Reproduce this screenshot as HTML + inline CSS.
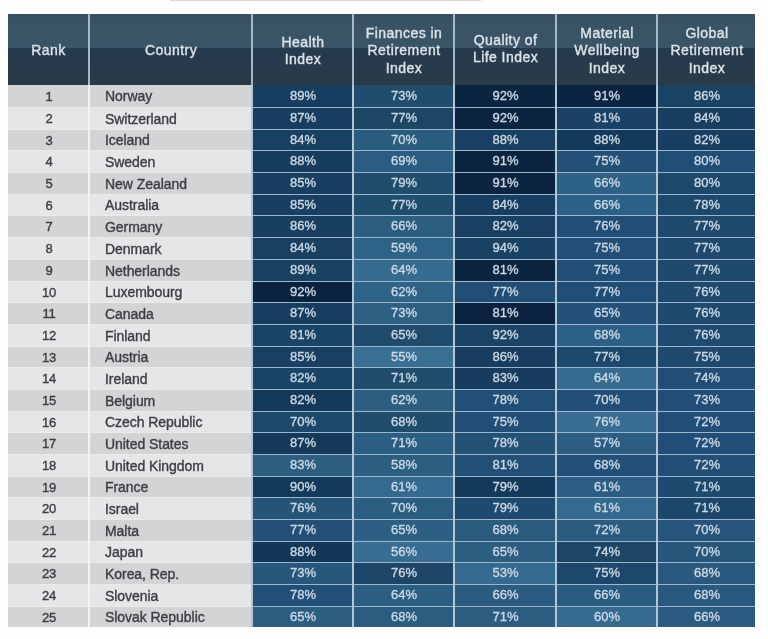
<!DOCTYPE html>
<html><head><meta charset="utf-8"><title>Global Retirement Index</title>
<style>
html,body{margin:0;padding:0;background:#fefefe;}
body{width:768px;height:639px;position:relative;overflow:hidden;font-family:"Liberation Sans",Arial,Helvetica,sans-serif;}
.c{position:absolute;box-sizing:border-box;display:flex;align-items:center;justify-content:center;white-space:nowrap;}
.h{color:#dbe2e8;font-size:14px;line-height:17.7px;text-align:center;letter-spacing:0.45px;flex-direction:column;-webkit-text-stroke:0.4px #dbe2e8;}
.g{color:#3d3f43;font-size:14px;letter-spacing:-0.05px;-webkit-text-stroke:0.38px #3d3f43;}
.n{justify-content:flex-start;padding-left:15px;}
.v{color:#ccd8e4;font-size:13px;letter-spacing:0px;-webkit-text-stroke:0.35px #ccd8e4;}
.sep{position:absolute;height:1px;background:#9bb6ce;}
.topbar{position:absolute;left:168px;top:-4px;width:313px;height:4px;border:1px solid #d4d8d8;border-top:none;border-radius:0 0 4px 4px;}
</style></head><body>

<div class="topbar"></div>
<div style="position:absolute;left:8px;top:14px;width:747px;height:613px;background:#f2f3f5"></div>
<div style="position:absolute;left:251px;top:85px;width:504px;height:542px;background:#b2c6d8"></div>
<div style="position:absolute;left:8px;top:14px;width:747px;height:71px;background:#a9b8c5"></div>
<div class="c h" style="left:8px;top:14px;width:80px;height:71px;background:linear-gradient(#385264 0,#3a5567 34px,#263a4e 34px,#2a3a49 100%)"><div style="position:relative;top:1.8px;left:0.5px">Rank</div></div>
<div class="c h" style="left:90px;top:14px;width:161px;height:71px;background:linear-gradient(#385264 0,#3a5567 34px,#263a4e 34px,#2a3a49 100%)"><div style="position:relative;top:1.3px;left:0.5px">Country</div></div>
<div class="c h" style="left:253px;top:14px;width:99px;height:71px;background:linear-gradient(#385264 0,#3a5567 34px,#263a4e 34px,#2a3a49 100%)"><div style="position:relative;top:1.8px;left:0.5px">Health<br>Index</div></div>
<div class="c h" style="left:354px;top:14px;width:99px;height:71px;background:linear-gradient(#385264 0,#3a5567 34px,#263a4e 34px,#2a3a49 100%)"><div style="position:relative;top:1.8px;left:0.5px">Finances in<br>Retirement<br>Index</div></div>
<div class="c h" style="left:455px;top:14px;width:100px;height:71px;background:linear-gradient(#385264 0,#3a5567 34px,#263a4e 34px,#2a3a49 100%)"><div style="position:relative;top:-0.2px;left:0.5px">Quality of<br>Life Index</div></div>
<div class="c h" style="left:557px;top:14px;width:99px;height:71px;background:linear-gradient(#385264 0,#3a5567 34px,#263a4e 34px,#2a3a49 100%)"><div style="position:relative;top:1.8px;left:0.5px">Material<br>Wellbeing<br>Index</div></div>
<div class="c h" style="left:658px;top:14px;width:97px;height:71px;background:linear-gradient(#385264 0,#3a5567 34px,#263a4e 34px,#2a3a49 100%)"><div style="position:relative;top:1.8px;left:0.5px">Global<br>Retirement<br>Index</div></div>
<div class="c g" style="left:8px;top:85px;width:80px;height:22px;background:#d3d4d6;"><span style="position:relative;top:0px;left:1px;font-size:13px;letter-spacing:-0.3px">1</span></div>
<div class="c g n" style="left:90px;top:85px;width:161px;height:22px;background:#d3d4d6;"><span style="position:relative;top:0px">Norway</span></div>
<div class="c v" style="left:253px;top:85px;width:99px;height:22px;background:#173e60;"><span style="position:relative;top:-1px;left:0.5px">89%</span></div>
<div class="c v" style="left:354px;top:85px;width:99px;height:22px;background:#204d6b;"><span style="position:relative;top:-1px;left:0.5px">73%</span></div>
<div class="c v" style="left:455px;top:85px;width:100px;height:22px;background:#0a2542;"><span style="position:relative;top:-1px;left:0.5px">92%</span></div>
<div class="c v" style="left:557px;top:85px;width:99px;height:22px;background:#0a2441;"><span style="position:relative;top:-1px;left:0.5px">91%</span></div>
<div class="c v" style="left:658px;top:85px;width:97px;height:22px;background:#1a4364;"><span style="position:relative;top:-1px;left:0.5px">86%</span></div>
<div class="c g" style="left:8px;top:107px;width:80px;height:22px;background:#e5e6e8;border-top:1px solid #eaebed;"><span style="position:relative;top:0px;left:1px;font-size:13px;letter-spacing:-0.3px">2</span></div>
<div class="c g n" style="left:90px;top:107px;width:161px;height:22px;background:#e5e6e8;border-top:1px solid #eaebed;"><span style="position:relative;top:0px">Switzerland</span></div>
<div class="c v" style="left:253px;top:107px;width:99px;height:22px;background:#173e60;border-top:1px solid #9bb6ce;"><span style="position:relative;top:-1px;left:0.5px">87%</span></div>
<div class="c v" style="left:354px;top:107px;width:99px;height:22px;background:#1c4664;border-top:1px solid #9bb6ce;"><span style="position:relative;top:-1px;left:0.5px">77%</span></div>
<div class="c v" style="left:455px;top:107px;width:100px;height:22px;background:#0a2440;border-top:1px solid #9bb6ce;"><span style="position:relative;top:-1px;left:0.5px">92%</span></div>
<div class="c v" style="left:557px;top:107px;width:99px;height:22px;background:#1a4266;border-top:1px solid #9bb6ce;"><span style="position:relative;top:-1px;left:0.5px">81%</span></div>
<div class="c v" style="left:658px;top:107px;width:97px;height:22px;background:#183f60;border-top:1px solid #9bb6ce;"><span style="position:relative;top:-1px;left:0.5px">84%</span></div>
<div class="c g" style="left:8px;top:129px;width:80px;height:21px;background:#d3d4d6;border-top:1px solid #eaebed;"><span style="position:relative;top:0px;left:1px;font-size:13px;letter-spacing:-0.3px">3</span></div>
<div class="c g n" style="left:90px;top:129px;width:161px;height:21px;background:#d3d4d6;border-top:1px solid #eaebed;"><span style="position:relative;top:0px">Iceland</span></div>
<div class="c v" style="left:253px;top:129px;width:99px;height:21px;background:#184062;border-top:1px solid #9bb6ce;"><span style="position:relative;top:-1px;left:0.5px">84%</span></div>
<div class="c v" style="left:354px;top:129px;width:99px;height:21px;background:#2a5c80;border-top:1px solid #9bb6ce;"><span style="position:relative;top:-1px;left:0.5px">70%</span></div>
<div class="c v" style="left:455px;top:129px;width:100px;height:21px;background:#193f62;border-top:1px solid #9bb6ce;"><span style="position:relative;top:-1px;left:0.5px">88%</span></div>
<div class="c v" style="left:557px;top:129px;width:99px;height:21px;background:#13395b;border-top:1px solid #9bb6ce;"><span style="position:relative;top:-1px;left:0.5px">88%</span></div>
<div class="c v" style="left:658px;top:129px;width:97px;height:21px;background:#183f62;border-top:1px solid #9bb6ce;"><span style="position:relative;top:-1px;left:0.5px">82%</span></div>
<div class="c g" style="left:8px;top:150px;width:80px;height:22px;background:#e5e6e8;border-top:1px solid #eaebed;"><span style="position:relative;top:0px;left:1px;font-size:13px;letter-spacing:-0.3px">4</span></div>
<div class="c g n" style="left:90px;top:150px;width:161px;height:22px;background:#e5e6e8;border-top:1px solid #eaebed;"><span style="position:relative;top:0px">Sweden</span></div>
<div class="c v" style="left:253px;top:150px;width:99px;height:22px;background:#173d5e;border-top:1px solid #9bb6ce;"><span style="position:relative;top:-1px;left:0.5px">88%</span></div>
<div class="c v" style="left:354px;top:150px;width:99px;height:22px;background:#2b5d82;border-top:1px solid #9bb6ce;"><span style="position:relative;top:-1px;left:0.5px">69%</span></div>
<div class="c v" style="left:455px;top:150px;width:100px;height:22px;background:#0a2440;border-top:1px solid #9bb6ce;"><span style="position:relative;top:-1px;left:0.5px">91%</span></div>
<div class="c v" style="left:557px;top:150px;width:99px;height:22px;background:#225077;border-top:1px solid #9bb6ce;"><span style="position:relative;top:-1px;left:0.5px">75%</span></div>
<div class="c v" style="left:658px;top:150px;width:97px;height:22px;background:#204d76;border-top:1px solid #9bb6ce;"><span style="position:relative;top:-1px;left:0.5px">80%</span></div>
<div class="c g" style="left:8px;top:172px;width:80px;height:22px;background:#d3d4d6;border-top:1px solid #eaebed;"><span style="position:relative;top:0px;left:1px;font-size:13px;letter-spacing:-0.3px">5</span></div>
<div class="c g n" style="left:90px;top:172px;width:161px;height:22px;background:#d3d4d6;border-top:1px solid #eaebed;"><span style="position:relative;top:0px">New Zealand</span></div>
<div class="c v" style="left:253px;top:172px;width:99px;height:22px;background:#183f62;border-top:1px solid #9bb6ce;"><span style="position:relative;top:-1px;left:0.5px">85%</span></div>
<div class="c v" style="left:354px;top:172px;width:99px;height:22px;background:#204d6b;border-top:1px solid #9bb6ce;"><span style="position:relative;top:-1px;left:0.5px">79%</span></div>
<div class="c v" style="left:455px;top:172px;width:100px;height:22px;background:#0b2540;border-top:1px solid #9bb6ce;"><span style="position:relative;top:-1px;left:0.5px">91%</span></div>
<div class="c v" style="left:557px;top:172px;width:99px;height:22px;background:#2d6186;border-top:1px solid #9bb6ce;"><span style="position:relative;top:-1px;left:0.5px">66%</span></div>
<div class="c v" style="left:658px;top:172px;width:97px;height:22px;background:#1c486b;border-top:1px solid #9bb6ce;"><span style="position:relative;top:-1px;left:0.5px">80%</span></div>
<div class="c g" style="left:8px;top:194px;width:80px;height:21px;background:#e5e6e8;border-top:1px solid #eaebed;"><span style="position:relative;top:0px;left:1px;font-size:13px;letter-spacing:-0.3px">6</span></div>
<div class="c g n" style="left:90px;top:194px;width:161px;height:21px;background:#e5e6e8;border-top:1px solid #eaebed;"><span style="position:relative;top:0px">Australia</span></div>
<div class="c v" style="left:253px;top:194px;width:99px;height:21px;background:#183f62;border-top:1px solid #9bb6ce;"><span style="position:relative;top:-1px;left:0.5px">85%</span></div>
<div class="c v" style="left:354px;top:194px;width:99px;height:21px;background:#1f4d6c;border-top:1px solid #9bb6ce;"><span style="position:relative;top:-1px;left:0.5px">77%</span></div>
<div class="c v" style="left:455px;top:194px;width:100px;height:21px;background:#173d60;border-top:1px solid #9bb6ce;"><span style="position:relative;top:-1px;left:0.5px">84%</span></div>
<div class="c v" style="left:557px;top:194px;width:99px;height:21px;background:#2c6187;border-top:1px solid #9bb6ce;"><span style="position:relative;top:-1px;left:0.5px">66%</span></div>
<div class="c v" style="left:658px;top:194px;width:97px;height:21px;background:#1c486b;border-top:1px solid #9bb6ce;"><span style="position:relative;top:-1px;left:0.5px">78%</span></div>
<div class="c g" style="left:8px;top:215px;width:80px;height:22px;background:#d3d4d6;border-top:1px solid #eaebed;"><span style="position:relative;top:0px;left:1px;font-size:13px;letter-spacing:-0.3px">7</span></div>
<div class="c g n" style="left:90px;top:215px;width:161px;height:22px;background:#d3d4d6;border-top:1px solid #eaebed;"><span style="position:relative;top:0px">Germany</span></div>
<div class="c v" style="left:253px;top:215px;width:99px;height:22px;background:#193f60;border-top:1px solid #9bb6ce;"><span style="position:relative;top:-1px;left:0.5px">86%</span></div>
<div class="c v" style="left:354px;top:215px;width:99px;height:22px;background:#2c5e80;border-top:1px solid #9bb6ce;"><span style="position:relative;top:-1px;left:0.5px">66%</span></div>
<div class="c v" style="left:455px;top:215px;width:100px;height:22px;background:#194062;border-top:1px solid #9bb6ce;"><span style="position:relative;top:-1px;left:0.5px">82%</span></div>
<div class="c v" style="left:557px;top:215px;width:99px;height:22px;background:#214d76;border-top:1px solid #9bb6ce;"><span style="position:relative;top:-1px;left:0.5px">76%</span></div>
<div class="c v" style="left:658px;top:215px;width:97px;height:22px;background:#1f4a6d;border-top:1px solid #9bb6ce;"><span style="position:relative;top:-1px;left:0.5px">77%</span></div>
<div class="c g" style="left:8px;top:237px;width:80px;height:22px;background:#e5e6e8;border-top:1px solid #eaebed;"><span style="position:relative;top:0px;left:1px;font-size:13px;letter-spacing:-0.3px">8</span></div>
<div class="c g n" style="left:90px;top:237px;width:161px;height:22px;background:#e5e6e8;border-top:1px solid #eaebed;"><span style="position:relative;top:0px">Denmark</span></div>
<div class="c v" style="left:253px;top:237px;width:99px;height:22px;background:#194061;border-top:1px solid #9bb6ce;"><span style="position:relative;top:-1px;left:0.5px">84%</span></div>
<div class="c v" style="left:354px;top:237px;width:99px;height:22px;background:#2e6286;border-top:1px solid #9bb6ce;"><span style="position:relative;top:-1px;left:0.5px">59%</span></div>
<div class="c v" style="left:455px;top:237px;width:100px;height:22px;background:#1a4264;border-top:1px solid #9bb6ce;"><span style="position:relative;top:-1px;left:0.5px">94%</span></div>
<div class="c v" style="left:557px;top:237px;width:99px;height:22px;background:#224f77;border-top:1px solid #9bb6ce;"><span style="position:relative;top:-1px;left:0.5px">75%</span></div>
<div class="c v" style="left:658px;top:237px;width:97px;height:22px;background:#1f4a6d;border-top:1px solid #9bb6ce;"><span style="position:relative;top:-1px;left:0.5px">77%</span></div>
<div class="c g" style="left:8px;top:259px;width:80px;height:22px;background:#d3d4d6;border-top:1px solid #eaebed;"><span style="position:relative;top:0px;left:1px;font-size:13px;letter-spacing:-0.3px">9</span></div>
<div class="c g n" style="left:90px;top:259px;width:161px;height:22px;background:#d3d4d6;border-top:1px solid #eaebed;"><span style="position:relative;top:0px">Netherlands</span></div>
<div class="c v" style="left:253px;top:259px;width:99px;height:22px;background:#194162;border-top:1px solid #9bb6ce;"><span style="position:relative;top:-1px;left:0.5px">89%</span></div>
<div class="c v" style="left:354px;top:259px;width:99px;height:22px;background:#366b90;border-top:1px solid #9bb6ce;"><span style="position:relative;top:-1px;left:0.5px">64%</span></div>
<div class="c v" style="left:455px;top:259px;width:100px;height:22px;background:#0b2440;border-top:1px solid #9bb6ce;"><span style="position:relative;top:-1px;left:0.5px">81%</span></div>
<div class="c v" style="left:557px;top:259px;width:99px;height:22px;background:#214e76;border-top:1px solid #9bb6ce;"><span style="position:relative;top:-1px;left:0.5px">75%</span></div>
<div class="c v" style="left:658px;top:259px;width:97px;height:22px;background:#1f4a6d;border-top:1px solid #9bb6ce;"><span style="position:relative;top:-1px;left:0.5px">77%</span></div>
<div class="c g" style="left:8px;top:281px;width:80px;height:21px;background:#e5e6e8;border-top:1px solid #eaebed;"><span style="position:relative;top:0px;left:1px;font-size:13px;letter-spacing:-0.3px">10</span></div>
<div class="c g n" style="left:90px;top:281px;width:161px;height:21px;background:#e5e6e8;border-top:1px solid #eaebed;"><span style="position:relative;top:0px">Luxembourg</span></div>
<div class="c v" style="left:253px;top:281px;width:99px;height:21px;background:#0a2440;border-top:1px solid #9bb6ce;"><span style="position:relative;top:-1px;left:0.5px">92%</span></div>
<div class="c v" style="left:354px;top:281px;width:99px;height:21px;background:#2e6286;border-top:1px solid #9bb6ce;"><span style="position:relative;top:-1px;left:0.5px">62%</span></div>
<div class="c v" style="left:455px;top:281px;width:100px;height:21px;background:#214d75;border-top:1px solid #9bb6ce;"><span style="position:relative;top:-1px;left:0.5px">77%</span></div>
<div class="c v" style="left:557px;top:281px;width:99px;height:21px;background:#204d76;border-top:1px solid #9bb6ce;"><span style="position:relative;top:-1px;left:0.5px">77%</span></div>
<div class="c v" style="left:658px;top:281px;width:97px;height:21px;background:#1f4a6d;border-top:1px solid #9bb6ce;"><span style="position:relative;top:-1px;left:0.5px">76%</span></div>
<div class="c g" style="left:8px;top:302px;width:80px;height:22px;background:#d3d4d6;border-top:1px solid #eaebed;"><span style="position:relative;top:0px;left:1px;font-size:13px;letter-spacing:-0.3px">11</span></div>
<div class="c g n" style="left:90px;top:302px;width:161px;height:22px;background:#d3d4d6;border-top:1px solid #eaebed;"><span style="position:relative;top:0px">Canada</span></div>
<div class="c v" style="left:253px;top:302px;width:99px;height:22px;background:#173d60;border-top:1px solid #9bb6ce;"><span style="position:relative;top:-1px;left:0.5px">87%</span></div>
<div class="c v" style="left:354px;top:302px;width:99px;height:22px;background:#2e6084;border-top:1px solid #9bb6ce;"><span style="position:relative;top:-1px;left:0.5px">73%</span></div>
<div class="c v" style="left:455px;top:302px;width:100px;height:22px;background:#0a2240;border-top:1px solid #9bb6ce;"><span style="position:relative;top:-1px;left:0.5px">81%</span></div>
<div class="c v" style="left:557px;top:302px;width:99px;height:22px;background:#24517a;border-top:1px solid #9bb6ce;"><span style="position:relative;top:-1px;left:0.5px">65%</span></div>
<div class="c v" style="left:658px;top:302px;width:97px;height:22px;background:#1f4a6d;border-top:1px solid #9bb6ce;"><span style="position:relative;top:-1px;left:0.5px">76%</span></div>
<div class="c g" style="left:8px;top:324px;width:80px;height:22px;background:#e5e6e8;border-top:1px solid #eaebed;"><span style="position:relative;top:0px;left:1px;font-size:13px;letter-spacing:-0.3px">12</span></div>
<div class="c g n" style="left:90px;top:324px;width:161px;height:22px;background:#e5e6e8;border-top:1px solid #eaebed;"><span style="position:relative;top:0px">Finland</span></div>
<div class="c v" style="left:253px;top:324px;width:99px;height:22px;background:#1b4568;border-top:1px solid #9bb6ce;"><span style="position:relative;top:-1px;left:0.5px">81%</span></div>
<div class="c v" style="left:354px;top:324px;width:99px;height:22px;background:#214b6c;border-top:1px solid #9bb6ce;"><span style="position:relative;top:-1px;left:0.5px">65%</span></div>
<div class="c v" style="left:455px;top:324px;width:100px;height:22px;background:#1a4366;border-top:1px solid #9bb6ce;"><span style="position:relative;top:-1px;left:0.5px">92%</span></div>
<div class="c v" style="left:557px;top:324px;width:99px;height:22px;background:#2c6086;border-top:1px solid #9bb6ce;"><span style="position:relative;top:-1px;left:0.5px">68%</span></div>
<div class="c v" style="left:658px;top:324px;width:97px;height:22px;background:#204b70;border-top:1px solid #9bb6ce;"><span style="position:relative;top:-1px;left:0.5px">76%</span></div>
<div class="c g" style="left:8px;top:346px;width:80px;height:21px;background:#d3d4d6;border-top:1px solid #eaebed;"><span style="position:relative;top:0px;left:1px;font-size:13px;letter-spacing:-0.3px">13</span></div>
<div class="c g n" style="left:90px;top:346px;width:161px;height:21px;background:#d3d4d6;border-top:1px solid #eaebed;"><span style="position:relative;top:0px">Austria</span></div>
<div class="c v" style="left:253px;top:346px;width:99px;height:21px;background:#194062;border-top:1px solid #9bb6ce;"><span style="position:relative;top:-1px;left:0.5px">85%</span></div>
<div class="c v" style="left:354px;top:346px;width:99px;height:21px;background:#3a6f94;border-top:1px solid #9bb6ce;"><span style="position:relative;top:-1px;left:0.5px">55%</span></div>
<div class="c v" style="left:455px;top:346px;width:100px;height:21px;background:#183d60;border-top:1px solid #9bb6ce;"><span style="position:relative;top:-1px;left:0.5px">86%</span></div>
<div class="c v" style="left:557px;top:346px;width:99px;height:21px;background:#1d486d;border-top:1px solid #9bb6ce;"><span style="position:relative;top:-1px;left:0.5px">77%</span></div>
<div class="c v" style="left:658px;top:346px;width:97px;height:21px;background:#1f4a6d;border-top:1px solid #9bb6ce;"><span style="position:relative;top:-1px;left:0.5px">75%</span></div>
<div class="c g" style="left:8px;top:367px;width:80px;height:22px;background:#e5e6e8;border-top:1px solid #eaebed;"><span style="position:relative;top:0px;left:1px;font-size:13px;letter-spacing:-0.3px">14</span></div>
<div class="c g n" style="left:90px;top:367px;width:161px;height:22px;background:#e5e6e8;border-top:1px solid #eaebed;"><span style="position:relative;top:0px">Ireland</span></div>
<div class="c v" style="left:253px;top:367px;width:99px;height:22px;background:#1a4568;border-top:1px solid #9bb6ce;"><span style="position:relative;top:-1px;left:0.5px">82%</span></div>
<div class="c v" style="left:354px;top:367px;width:99px;height:22px;background:#204d6b;border-top:1px solid #9bb6ce;"><span style="position:relative;top:-1px;left:0.5px">71%</span></div>
<div class="c v" style="left:455px;top:367px;width:100px;height:22px;background:#173c5f;border-top:1px solid #9bb6ce;"><span style="position:relative;top:-1px;left:0.5px">83%</span></div>
<div class="c v" style="left:557px;top:367px;width:99px;height:22px;background:#366b91;border-top:1px solid #9bb6ce;"><span style="position:relative;top:-1px;left:0.5px">64%</span></div>
<div class="c v" style="left:658px;top:367px;width:97px;height:22px;background:#214d76;border-top:1px solid #9bb6ce;"><span style="position:relative;top:-1px;left:0.5px">74%</span></div>
<div class="c g" style="left:8px;top:389px;width:80px;height:22px;background:#d3d4d6;border-top:1px solid #eaebed;"><span style="position:relative;top:0px;left:1px;font-size:13px;letter-spacing:-0.3px">15</span></div>
<div class="c g n" style="left:90px;top:389px;width:161px;height:22px;background:#d3d4d6;border-top:1px solid #eaebed;"><span style="position:relative;top:0px">Belgium</span></div>
<div class="c v" style="left:253px;top:389px;width:99px;height:22px;background:#143a5b;border-top:1px solid #9bb6ce;"><span style="position:relative;top:-1px;left:0.5px">82%</span></div>
<div class="c v" style="left:354px;top:389px;width:99px;height:22px;background:#2c5e82;border-top:1px solid #9bb6ce;"><span style="position:relative;top:-1px;left:0.5px">62%</span></div>
<div class="c v" style="left:455px;top:389px;width:100px;height:22px;background:#224f77;border-top:1px solid #9bb6ce;"><span style="position:relative;top:-1px;left:0.5px">78%</span></div>
<div class="c v" style="left:557px;top:389px;width:99px;height:22px;background:#214e76;border-top:1px solid #9bb6ce;"><span style="position:relative;top:-1px;left:0.5px">70%</span></div>
<div class="c v" style="left:658px;top:389px;width:97px;height:22px;background:#214d76;border-top:1px solid #9bb6ce;"><span style="position:relative;top:-1px;left:0.5px">73%</span></div>
<div class="c g" style="left:8px;top:411px;width:80px;height:21px;background:#e5e6e8;border-top:1px solid #eaebed;"><span style="position:relative;top:0px;left:1px;font-size:13px;letter-spacing:-0.3px">16</span></div>
<div class="c g n" style="left:90px;top:411px;width:161px;height:21px;background:#e5e6e8;border-top:1px solid #eaebed;"><span style="position:relative;top:0px">Czech Republic</span></div>
<div class="c v" style="left:253px;top:411px;width:99px;height:21px;background:#1c486b;border-top:1px solid #9bb6ce;"><span style="position:relative;top:-1px;left:0.5px">70%</span></div>
<div class="c v" style="left:354px;top:411px;width:99px;height:21px;background:#204d6b;border-top:1px solid #9bb6ce;"><span style="position:relative;top:-1px;left:0.5px">68%</span></div>
<div class="c v" style="left:455px;top:411px;width:100px;height:21px;background:#214d76;border-top:1px solid #9bb6ce;"><span style="position:relative;top:-1px;left:0.5px">75%</span></div>
<div class="c v" style="left:557px;top:411px;width:99px;height:21px;background:#386c92;border-top:1px solid #9bb6ce;"><span style="position:relative;top:-1px;left:0.5px">76%</span></div>
<div class="c v" style="left:658px;top:411px;width:97px;height:21px;background:#214d76;border-top:1px solid #9bb6ce;"><span style="position:relative;top:-1px;left:0.5px">72%</span></div>
<div class="c g" style="left:8px;top:432px;width:80px;height:22px;background:#d3d4d6;border-top:1px solid #eaebed;"><span style="position:relative;top:0px;left:1px;font-size:13px;letter-spacing:-0.3px">17</span></div>
<div class="c g n" style="left:90px;top:432px;width:161px;height:22px;background:#d3d4d6;border-top:1px solid #eaebed;"><span style="position:relative;top:0px">United States</span></div>
<div class="c v" style="left:253px;top:432px;width:99px;height:22px;background:#143959;border-top:1px solid #9bb6ce;"><span style="position:relative;top:-1px;left:0.5px">87%</span></div>
<div class="c v" style="left:354px;top:432px;width:99px;height:22px;background:#2b5e82;border-top:1px solid #9bb6ce;"><span style="position:relative;top:-1px;left:0.5px">71%</span></div>
<div class="c v" style="left:455px;top:432px;width:100px;height:22px;background:#245277;border-top:1px solid #9bb6ce;"><span style="position:relative;top:-1px;left:0.5px">78%</span></div>
<div class="c v" style="left:557px;top:432px;width:99px;height:22px;background:#2c5d82;border-top:1px solid #9bb6ce;"><span style="position:relative;top:-1px;left:0.5px">57%</span></div>
<div class="c v" style="left:658px;top:432px;width:97px;height:22px;background:#214d76;border-top:1px solid #9bb6ce;"><span style="position:relative;top:-1px;left:0.5px">72%</span></div>
<div class="c g" style="left:8px;top:454px;width:80px;height:22px;background:#e5e6e8;border-top:1px solid #eaebed;"><span style="position:relative;top:0px;left:1px;font-size:13px;letter-spacing:-0.3px">18</span></div>
<div class="c g n" style="left:90px;top:454px;width:161px;height:22px;background:#e5e6e8;border-top:1px solid #eaebed;"><span style="position:relative;top:0px">United Kingdom</span></div>
<div class="c v" style="left:253px;top:454px;width:99px;height:22px;background:#2c5e80;border-top:1px solid #9bb6ce;"><span style="position:relative;top:-1px;left:0.5px">83%</span></div>
<div class="c v" style="left:354px;top:454px;width:99px;height:22px;background:#2c5e82;border-top:1px solid #9bb6ce;"><span style="position:relative;top:-1px;left:0.5px">58%</span></div>
<div class="c v" style="left:455px;top:454px;width:100px;height:22px;background:#224f75;border-top:1px solid #9bb6ce;"><span style="position:relative;top:-1px;left:0.5px">81%</span></div>
<div class="c v" style="left:557px;top:454px;width:99px;height:22px;background:#224f77;border-top:1px solid #9bb6ce;"><span style="position:relative;top:-1px;left:0.5px">68%</span></div>
<div class="c v" style="left:658px;top:454px;width:97px;height:22px;background:#214d76;border-top:1px solid #9bb6ce;"><span style="position:relative;top:-1px;left:0.5px">72%</span></div>
<div class="c g" style="left:8px;top:476px;width:80px;height:21px;background:#d3d4d6;border-top:1px solid #eaebed;"><span style="position:relative;top:0px;left:1px;font-size:13px;letter-spacing:-0.3px">19</span></div>
<div class="c g n" style="left:90px;top:476px;width:161px;height:21px;background:#d3d4d6;border-top:1px solid #eaebed;"><span style="position:relative;top:0px">France</span></div>
<div class="c v" style="left:253px;top:476px;width:99px;height:21px;background:#133a5b;border-top:1px solid #9bb6ce;"><span style="position:relative;top:-1px;left:0.5px">90%</span></div>
<div class="c v" style="left:354px;top:476px;width:99px;height:21px;background:#356a90;border-top:1px solid #9bb6ce;"><span style="position:relative;top:-1px;left:0.5px">61%</span></div>
<div class="c v" style="left:455px;top:476px;width:100px;height:21px;background:#143a5b;border-top:1px solid #9bb6ce;"><span style="position:relative;top:-1px;left:0.5px">79%</span></div>
<div class="c v" style="left:557px;top:476px;width:99px;height:21px;background:#2c5d83;border-top:1px solid #9bb6ce;"><span style="position:relative;top:-1px;left:0.5px">61%</span></div>
<div class="c v" style="left:658px;top:476px;width:97px;height:21px;background:#1f4a6f;border-top:1px solid #9bb6ce;"><span style="position:relative;top:-1px;left:0.5px">71%</span></div>
<div class="c g" style="left:8px;top:497px;width:80px;height:22px;background:#e5e6e8;border-top:1px solid #eaebed;"><span style="position:relative;top:0px;left:1px;font-size:13px;letter-spacing:-0.3px">20</span></div>
<div class="c g n" style="left:90px;top:497px;width:161px;height:22px;background:#e5e6e8;border-top:1px solid #eaebed;"><span style="position:relative;top:0px">Israel</span></div>
<div class="c v" style="left:253px;top:497px;width:99px;height:22px;background:#265476;border-top:1px solid #9bb6ce;"><span style="position:relative;top:-1px;left:0.5px">76%</span></div>
<div class="c v" style="left:354px;top:497px;width:99px;height:22px;background:#2b5d80;border-top:1px solid #9bb6ce;"><span style="position:relative;top:-1px;left:0.5px">70%</span></div>
<div class="c v" style="left:455px;top:497px;width:100px;height:22px;background:#1f4a6f;border-top:1px solid #9bb6ce;"><span style="position:relative;top:-1px;left:0.5px">79%</span></div>
<div class="c v" style="left:557px;top:497px;width:99px;height:22px;background:#356a90;border-top:1px solid #9bb6ce;"><span style="position:relative;top:-1px;left:0.5px">61%</span></div>
<div class="c v" style="left:658px;top:497px;width:97px;height:22px;background:#1c466a;border-top:1px solid #9bb6ce;"><span style="position:relative;top:-1px;left:0.5px">71%</span></div>
<div class="c g" style="left:8px;top:519px;width:80px;height:22px;background:#d3d4d6;border-top:1px solid #eaebed;"><span style="position:relative;top:0px;left:1px;font-size:13px;letter-spacing:-0.3px">21</span></div>
<div class="c g n" style="left:90px;top:519px;width:161px;height:22px;background:#d3d4d6;border-top:1px solid #eaebed;"><span style="position:relative;top:0px">Malta</span></div>
<div class="c v" style="left:253px;top:519px;width:99px;height:22px;background:#245077;border-top:1px solid #9bb6ce;"><span style="position:relative;top:-1px;left:0.5px">77%</span></div>
<div class="c v" style="left:354px;top:519px;width:99px;height:22px;background:#2d5f84;border-top:1px solid #9bb6ce;"><span style="position:relative;top:-1px;left:0.5px">65%</span></div>
<div class="c v" style="left:455px;top:519px;width:100px;height:22px;background:#2b5c80;border-top:1px solid #9bb6ce;"><span style="position:relative;top:-1px;left:0.5px">68%</span></div>
<div class="c v" style="left:557px;top:519px;width:99px;height:22px;background:#2b5c80;border-top:1px solid #9bb6ce;"><span style="position:relative;top:-1px;left:0.5px">72%</span></div>
<div class="c v" style="left:658px;top:519px;width:97px;height:22px;background:#26547a;border-top:1px solid #9bb6ce;"><span style="position:relative;top:-1px;left:0.5px">70%</span></div>
<div class="c g" style="left:8px;top:541px;width:80px;height:21px;background:#e5e6e8;border-top:1px solid #eaebed;"><span style="position:relative;top:0px;left:1px;font-size:13px;letter-spacing:-0.3px">22</span></div>
<div class="c g n" style="left:90px;top:541px;width:161px;height:21px;background:#e5e6e8;border-top:1px solid #eaebed;"><span style="position:relative;top:0px">Japan</span></div>
<div class="c v" style="left:253px;top:541px;width:99px;height:21px;background:#123758;border-top:1px solid #9bb6ce;"><span style="position:relative;top:-1px;left:0.5px">88%</span></div>
<div class="c v" style="left:354px;top:541px;width:99px;height:21px;background:#386c92;border-top:1px solid #9bb6ce;"><span style="position:relative;top:-1px;left:0.5px">56%</span></div>
<div class="c v" style="left:455px;top:541px;width:100px;height:21px;background:#2c5e82;border-top:1px solid #9bb6ce;"><span style="position:relative;top:-1px;left:0.5px">65%</span></div>
<div class="c v" style="left:557px;top:541px;width:99px;height:21px;background:#1c4566;border-top:1px solid #9bb6ce;"><span style="position:relative;top:-1px;left:0.5px">74%</span></div>
<div class="c v" style="left:658px;top:541px;width:97px;height:21px;background:#26567a;border-top:1px solid #9bb6ce;"><span style="position:relative;top:-1px;left:0.5px">70%</span></div>
<div class="c g" style="left:8px;top:562px;width:80px;height:22px;background:#d3d4d6;border-top:1px solid #eaebed;"><span style="position:relative;top:0px;left:1px;font-size:13px;letter-spacing:-0.3px">23</span></div>
<div class="c g n" style="left:90px;top:562px;width:161px;height:22px;background:#d3d4d6;border-top:1px solid #eaebed;"><span style="position:relative;top:0px">Korea, Rep.</span></div>
<div class="c v" style="left:253px;top:562px;width:99px;height:22px;background:#27577b;border-top:1px solid #9bb6ce;"><span style="position:relative;top:-1px;left:0.5px">73%</span></div>
<div class="c v" style="left:354px;top:562px;width:99px;height:22px;background:#1c4566;border-top:1px solid #9bb6ce;"><span style="position:relative;top:-1px;left:0.5px">76%</span></div>
<div class="c v" style="left:455px;top:562px;width:100px;height:22px;background:#356a90;border-top:1px solid #9bb6ce;"><span style="position:relative;top:-1px;left:0.5px">53%</span></div>
<div class="c v" style="left:557px;top:562px;width:99px;height:22px;background:#1d486b;border-top:1px solid #9bb6ce;"><span style="position:relative;top:-1px;left:0.5px">75%</span></div>
<div class="c v" style="left:658px;top:562px;width:97px;height:22px;background:#2a597f;border-top:1px solid #9bb6ce;"><span style="position:relative;top:-1px;left:0.5px">68%</span></div>
<div class="c g" style="left:8px;top:584px;width:80px;height:22px;background:#e5e6e8;border-top:1px solid #eaebed;"><span style="position:relative;top:0px;left:1px;font-size:13px;letter-spacing:-0.3px">24</span></div>
<div class="c g n" style="left:90px;top:584px;width:161px;height:22px;background:#e5e6e8;border-top:1px solid #eaebed;"><span style="position:relative;top:0px">Slovenia</span></div>
<div class="c v" style="left:253px;top:584px;width:99px;height:22px;background:#224f77;border-top:1px solid #9bb6ce;"><span style="position:relative;top:-1px;left:0.5px">78%</span></div>
<div class="c v" style="left:354px;top:584px;width:99px;height:22px;background:#2c5e82;border-top:1px solid #9bb6ce;"><span style="position:relative;top:-1px;left:0.5px">64%</span></div>
<div class="c v" style="left:455px;top:584px;width:100px;height:22px;background:#2b5b80;border-top:1px solid #9bb6ce;"><span style="position:relative;top:-1px;left:0.5px">66%</span></div>
<div class="c v" style="left:557px;top:584px;width:99px;height:22px;background:#2a5b80;border-top:1px solid #9bb6ce;"><span style="position:relative;top:-1px;left:0.5px">66%</span></div>
<div class="c v" style="left:658px;top:584px;width:97px;height:22px;background:#2a597f;border-top:1px solid #9bb6ce;"><span style="position:relative;top:-1px;left:0.5px">68%</span></div>
<div class="c g" style="left:8px;top:606px;width:80px;height:21px;background:#d3d4d6;border-top:1px solid #eaebed;"><span style="position:relative;top:0px;left:1px;font-size:13px;letter-spacing:-0.3px">25</span></div>
<div class="c g n" style="left:90px;top:606px;width:161px;height:21px;background:#d3d4d6;border-top:1px solid #eaebed;"><span style="position:relative;top:0px">Slovak Republic</span></div>
<div class="c v" style="left:253px;top:606px;width:99px;height:21px;background:#2c5e82;border-top:1px solid #9bb6ce;"><span style="position:relative;top:-1px;left:0.5px">65%</span></div>
<div class="c v" style="left:354px;top:606px;width:99px;height:21px;background:#2b5d80;border-top:1px solid #9bb6ce;"><span style="position:relative;top:-1px;left:0.5px">68%</span></div>
<div class="c v" style="left:455px;top:606px;width:100px;height:21px;background:#2c5e82;border-top:1px solid #9bb6ce;"><span style="position:relative;top:-1px;left:0.5px">71%</span></div>
<div class="c v" style="left:557px;top:606px;width:99px;height:21px;background:#366a90;border-top:1px solid #9bb6ce;"><span style="position:relative;top:-1px;left:0.5px">60%</span></div>
<div class="c v" style="left:658px;top:606px;width:97px;height:21px;background:#2b5b80;border-top:1px solid #9bb6ce;"><span style="position:relative;top:-1px;left:0.5px">66%</span></div>
</body></html>
